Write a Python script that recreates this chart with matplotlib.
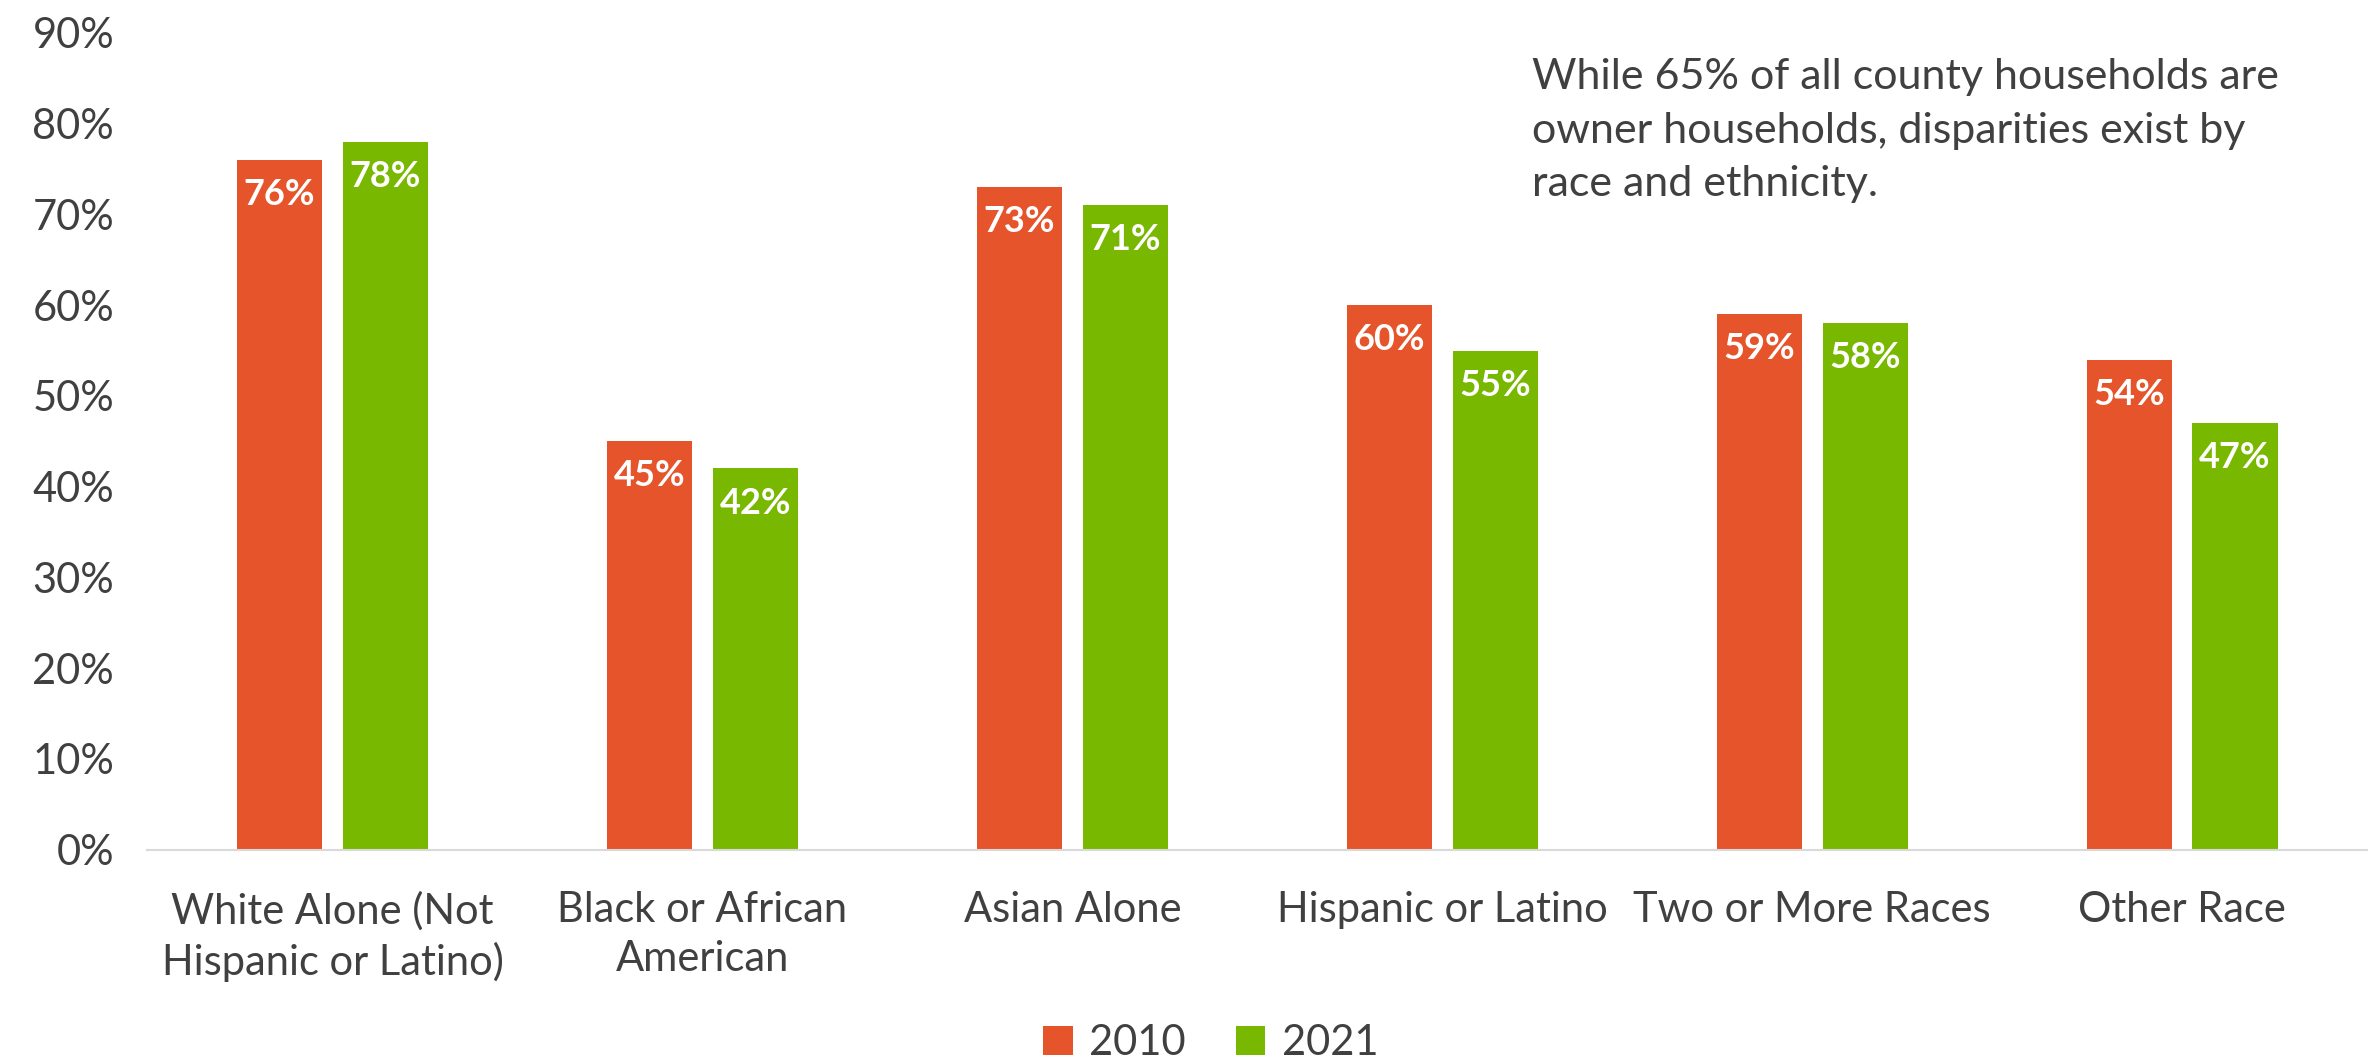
import numpy as np
import matplotlib.pyplot as plt

categories = ["White Alone (Not\nHispanic or Latino)", "Black or African\nAmerican",
              "Asian Alone", "Hispanic or Latino", "Two or More Races", "Other Race"]
years = ["2010", "2021"]
vals_2010 = [76, 45, 73, 60, 59, 54]
vals_2021 = [78, 42, 71, 55, 58, 47]
note = "While 65% of all county households are\nowner households, disparities exist by\nrace and ethnicity."

c_orange = "#E5542A"
c_green = "#78B800"
txt = "#404040"

plt.rcParams['font.family'] = ['Lato', 'DejaVu Sans']

fig = plt.figure(figsize=(23.79, 10.62), dpi=100)
ax = fig.add_axes([0.062, 0.2, 0.933, 0.769])

x = np.arange(len(categories))
w = 0.23
off = 0.143
b1 = ax.bar(x - off, vals_2010, w, color=c_orange, label=years[0])
b2 = ax.bar(x + off, vals_2021, w, color=c_green, label=years[1])

for bars in (b1, b2):
    for r in bars:
        h = r.get_height()
        ax.annotate(f"{h:.0f}%", (r.get_x() + r.get_width() / 2, h),
                    xytext=(0, -13), textcoords="offset points",
                    ha="center", va="top", color="white",
                    fontsize=26, fontweight="bold")

ax.set_xlim(-0.5, len(categories) - 0.5)
ax.set_ylim(0, 90)
ax.set_yticks(np.arange(0, 91, 10))
ax.set_yticklabels([f"{v}%" for v in range(0, 91, 10)])
ax.set_xticks(x)
ax.set_xticklabels(categories, linespacing=1.35)
ax.tick_params(axis="both", length=0, labelsize=30, colors=txt)
ax.tick_params(axis="x", pad=30)
ax.tick_params(axis="y", pad=24)

for s in ("top", "right", "left"):
    ax.spines[s].set_visible(False)
ax.spines["bottom"].set_color("#d9d9d9")
ax.spines["bottom"].set_linewidth(1.5)

fig.text(1532 / 2379, 1 - 58 / 1062, note, ha="left", va="top",
         fontsize=31, color=txt, linespacing=1.5)

fig.legend(loc="lower center", bbox_to_anchor=(0.509, -0.035), ncol=2,
           frameon=False, fontsize=30, handlelength=0.7, handleheight=0.7,
           handletextpad=0.4, columnspacing=1.2, labelcolor=txt)

fig.savefig("out.png", dpi=100, facecolor="white")
